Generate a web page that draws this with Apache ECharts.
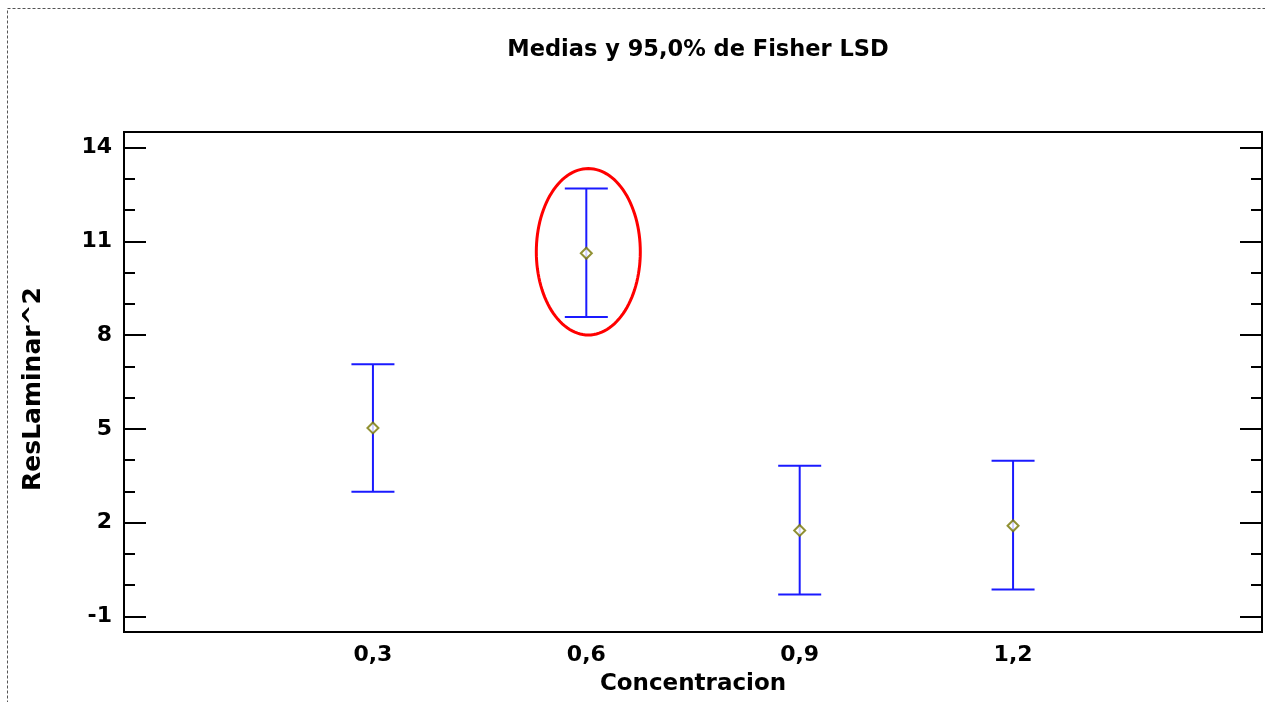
<!DOCTYPE html>
<html>
<head>
<meta charset="utf-8">
<style>
  html, body { margin: 0; padding: 0; background: #fff; }
  #chart { width: 1265px; height: 702px; }
</style>
<script src="https://cdn.jsdelivr.net/npm/echarts@6/dist/echarts.min.js"></script>
</head>
<body>
<div id="chart"></div>
<script>
// concentration levels and Fisher LSD intervals
const levels = [0.3, 0.6, 0.9, 1.2];
const means = [5.03, 10.62, 1.75, 1.90];
const lower = [2.99, 8.58, -0.30, -0.14];
const upper = [7.07, 12.69, 3.82, 3.98];
const highlighted = [0.6];

// axis ticks
const xTicks = [0.3, 0.6, 0.9, 1.2];
const yMajor = [-1, 2, 5, 8, 11, 14];
const yMinor = [0, 1, 3, 4, 6, 7, 9, 10, 12, 13];

const FONT = 'DejaVu Sans';
const Y_MIN = -1.5, Y_MAX = 14.5;

const chart = echarts.init(document.getElementById('chart'));

function yAxisDef(pos, ticks, len, withLabel) {
  return {
    type: 'value', position: pos, min: Y_MIN, max: Y_MAX,
    splitLine: { show: false },
    axisLine: { show: false, onZero: false },
    axisTick: { show: true, inside: true, length: len, customValues: ticks,
      lineStyle: { color: '#000', width: 2 } },
    axisLabel: withLabel ? {
      show: true, customValues: ticks, color: '#000', fontFamily: FONT,
      fontWeight: 'bold', fontSize: 22, margin: 12
    } : { show: false }
  };
}

const yAxes = [
  yAxisDef('left', yMajor, 22, true),
  yAxisDef('left', yMinor, 11, false),
  yAxisDef('right', yMajor, 22, false),
  yAxisDef('right', yMinor, 11, false)
];
yAxes[0].name = 'ResLaminar^2';
yAxes[0].nameLocation = 'middle';
yAxes[0].nameGap = 78;
yAxes[0].nameTextStyle = { color: '#000', fontFamily: FONT, fontWeight: 'bold', fontSize: 25,
  padding: [0, 14, 0, 0] };

const barData = levels.map((x, i) => [x, lower[i], upper[i]]);
const meanData = levels.map((x, i) => [x, means[i]]);
const ringData = levels.map((x, i) => [x, lower[i], upper[i]])
  .filter(d => highlighted.indexOf(d[0]) >= 0);

chart.setOption({
  animation: false,
  backgroundColor: '#fff',
  title: {
    text: 'Medias y 95,0% de Fisher LSD',
    left: 693, top: 34, textAlign: 'center',
    textStyle: { color: '#000', fontFamily: FONT, fontWeight: 'bold', fontSize: 22.5 }
  },
  graphic: [{
    type: 'rect', silent: true,
    shape: { x: 7.5, y: 8.5, width: 1300, height: 750 },
    style: { fill: null, stroke: '#555', lineWidth: 1, lineDash: [3, 2] }
  }],
  grid: {
    left: 124, right: 3, top: 132, bottom: 70,
    show: true, borderColor: '#000', borderWidth: 2, backgroundColor: 'transparent'
  },
  xAxis: {
    type: 'value', min: -0.05, max: 1.55,
    name: 'Concentracion', nameLocation: 'middle', nameGap: 41,
    nameTextStyle: { color: '#000', fontFamily: FONT, fontWeight: 'bold', fontSize: 23 },
    splitLine: { show: false },
    axisLine: { show: false, onZero: false },
    axisTick: { show: false },
    axisLabel: {
      customValues: xTicks, color: '#000', fontFamily: FONT, fontWeight: 'bold',
      fontSize: 22, margin: 12,
      formatter: v => String(v).replace('.', ',')
    }
  },
  yAxis: yAxes,
  series: [
    {
      type: 'custom',
      data: barData,
      renderItem: function (params, api) {
        const x = api.value(0);
        const lo = api.coord([x, api.value(1)]);
        const hi = api.coord([x, api.value(2)]);
        const half = 21.5;
        const st = { stroke: '#1a1aff', lineWidth: 2 };
        return {
          type: 'group',
          children: [
            { type: 'line', shape: { x1: lo[0], y1: lo[1], x2: hi[0], y2: hi[1] }, style: st },
            { type: 'line', shape: { x1: hi[0] - half, y1: hi[1], x2: hi[0] + half, y2: hi[1] }, style: st },
            { type: 'line', shape: { x1: lo[0] - half, y1: lo[1], x2: lo[0] + half, y2: lo[1] }, style: st }
          ]
        };
      },
      z: 2
    },
    {
      type: 'scatter',
      data: meanData,
      symbol: 'diamond',
      symbolSize: 11,
      itemStyle: { color: '#fff', borderColor: '#757500', borderWidth: 2 },
      z: 3
    },
    {
      type: 'custom',
      data: ringData,
      renderItem: function (params, api) {
        const x = api.value(0);
        const lo = api.coord([x, api.value(1)]);
        const hi = api.coord([x, api.value(2)]);
        const cx = lo[0] + 2, cy = (lo[1] + hi[1]) / 2 - 1;
        const rx = 52, ry = (lo[1] - hi[1]) / 2 + 19;
        const pts = [];
        for (let k = 0; k < 120; k++) {
          const a = k / 120 * Math.PI * 2;
          pts.push([cx + rx * Math.cos(a), cy + ry * Math.sin(a)]);
        }
        return { type: 'polygon', shape: { points: pts },
          style: { fill: null, stroke: '#ff0000', lineWidth: 3 } };
      },
      z: 4
    }
  ]
});
</script>
</body>
</html>
